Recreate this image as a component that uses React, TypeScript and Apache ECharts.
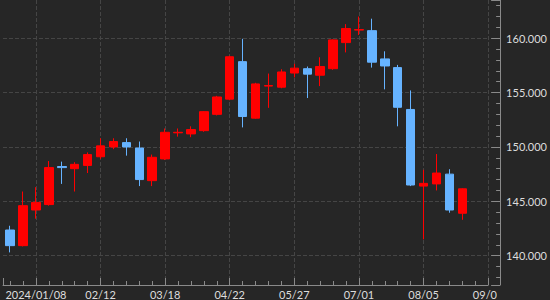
import React, { useEffect, useRef } from 'react';
import * as echarts from 'echarts';

// Weekly candles, USD/JPY style (week start dates)
const weeks = [
  '2023/12/25', '2024/01/01', '2024/01/08', '2024/01/15', '2024/01/22', '2024/01/29',
  '2024/02/05', '2024/02/12', '2024/02/19', '2024/02/26', '2024/03/04', '2024/03/11',
  '2024/03/18', '2024/03/25', '2024/04/01', '2024/04/08', '2024/04/15', '2024/04/22',
  '2024/04/29', '2024/05/06', '2024/05/13', '2024/05/20', '2024/05/27', '2024/06/03',
  '2024/06/10', '2024/06/17', '2024/06/24', '2024/07/01', '2024/07/08', '2024/07/15',
  '2024/07/22', '2024/07/29', '2024/08/05', '2024/08/12', '2024/08/19', '2024/08/26',
  '2024/09/02', '2024/09/09',
];

const opens = [
  142.36, 140.92, 144.2, 144.7, 148.2, 148.0, 148.3, 149.1, 150.0, 150.4, 149.9, 146.9,
  148.9, 151.3, 151.2, 151.5, 153.0, 154.4, 157.85, 152.65, 155.6, 155.5, 156.8, 157.2,
  156.6, 157.2, 159.6, 160.75, 160.7, 158.1, 157.3, 153.45, 146.4, 146.6, 147.5, 143.9,
];
const closes = [
  140.92, 144.6, 144.9, 148.1, 148.1, 148.4, 149.3, 150.1, 150.5, 150.0, 147.0, 149.05,
  151.35, 151.35, 151.6, 153.25, 154.6, 158.3, 152.8, 155.8, 155.65, 156.9, 157.25, 156.7,
  157.4, 159.85, 160.9, 160.8, 157.8, 157.45, 153.65, 146.5, 146.65, 147.6, 144.2, 146.15,
];
const lows = [
  140.3, 140.85, 143.4, 144.6, 146.6, 145.9, 147.6, 148.9, 149.8, 149.2, 146.4, 146.4,
  148.8, 150.95, 150.9, 151.4, 152.9, 154.3, 151.8, 152.6, 153.6, 155.4, 156.4, 154.5,
  155.6, 157.1, 158.7, 160.3, 157.3, 155.3, 151.9, 146.4, 141.5, 146.0, 143.95, 143.3,
];
const highs = [
  142.75, 145.9, 146.3, 148.7, 148.65, 148.6, 149.5, 150.8, 150.8, 150.8, 150.5, 149.3,
  151.7, 151.7, 151.9, 153.3, 154.7, 158.4, 159.95, 155.9, 156.75, 157.15, 157.65, 157.4,
  158.25, 159.9, 161.3, 162.0, 161.8, 158.8, 157.55, 155.2, 147.9, 149.35, 147.95, 146.2,
];

// index of the first labelled week (2024/01/08); labels every 5 weeks from it
const LABEL_PHASE = 2;

const BG = '#262626';
const AXIS = '#8a8a8a';
const GRID = '#454545';
const TEXT = '#dddddd';
const UP = '#ff0000';
const DOWN = '#66b3ff';

export default function App() {
  const ref = useRef<HTMLDivElement>(null);
  useEffect(() => {
    document.body.style.margin = '0';
    const chart = echarts.init(ref.current!, null, { renderer: 'svg' });
    const data = opens.map((o, i) => [i - LABEL_PHASE, o, closes[i], lows[i], highs[i]]);
    chart.setOption({
      animation: false,
      backgroundColor: BG,
      grid: { left: 0, right: 57, top: 0, bottom: 15 },
      xAxis: {
        type: 'value',
        min: -2.55,
        max: weeks.length - 1 - LABEL_PHASE,
        minInterval: 5,
        maxInterval: 5,
        axisLine: { show: true, onZero: false, lineStyle: { color: AXIS } },
        axisTick: { show: true, inside: true, length: 7, lineStyle: { color: AXIS } },
        minorTick: { show: true, splitNumber: 5, length: 4, lineStyle: { color: AXIS } },
        axisLabel: {
          color: TEXT,
          fontFamily: 'Lato',
          fontSize: 11,
          margin: 4,
          formatter: (v: number) => {
            if (!Number.isInteger(v) || v % 5 !== 0) return '';
            const d = weeks[v + LABEL_PHASE];
            if (!d) return '';
            return v === 0 ? d : d.slice(5);
          },
        },
        splitLine: { show: true, showMinLine: false, lineStyle: { color: GRID, type: 'dashed' } },
      },
      yAxis: {
        type: 'value',
        position: 'right',
        offset: 12,
        min: 137.3,
        max: 163.52,
        minInterval: 5,
        maxInterval: 5,
        axisLine: { show: true, onZero: false, lineStyle: { color: AXIS } },
        axisTick: { show: true, inside: true, length: 9, lineStyle: { color: AXIS } },
        minorTick: { show: true, splitNumber: 5, length: 4, lineStyle: { color: AXIS } },
        axisLabel: {
          color: TEXT,
          fontFamily: 'Lato',
          fontSize: 11,
          margin: 6,
          formatter: (v: number) => (Math.abs(v % 5) < 1e-9 ? v.toFixed(3) : ''),
        },
        splitLine: {
          show: true,
          showMinLine: false,
          showMaxLine: false,
          lineStyle: { color: GRID, type: 'dashed' },
        },
      },
      graphic: [
        {
          type: 'rect',
          z: 100,
          shape: { x: 497, y: 287, width: 53, height: 13 },
          style: { fill: BG },
        },
      ],
      series: [
        {
          type: 'candlestick',
          data,
          barWidth: 9,
          itemStyle: {
            color: UP,
            color0: DOWN,
            borderColor: UP,
            borderColor0: DOWN,
            borderWidth: 1,
          },
        },
      ],
    });
    return () => chart.dispose();
  }, []);
  return <div ref={ref} style={{ width: 550, height: 300 }} />;
}
